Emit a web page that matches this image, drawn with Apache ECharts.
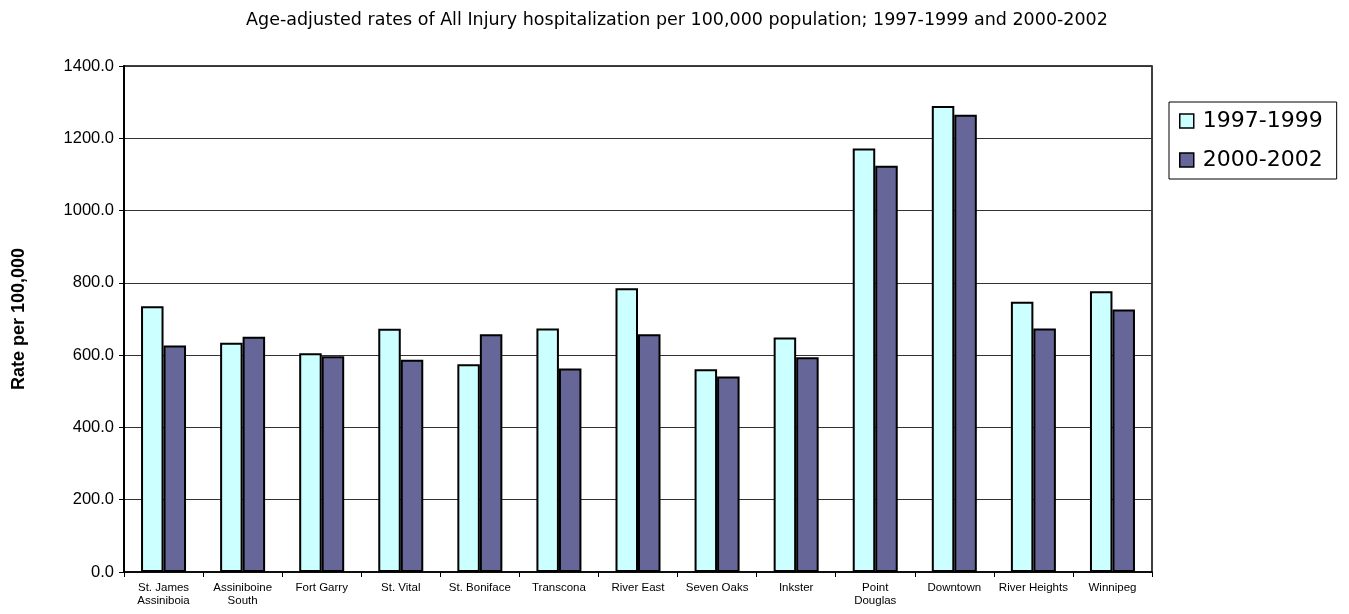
<!DOCTYPE html>
<html>
<head>
<meta charset="utf-8">
<script src="https://cdn.jsdelivr.net/npm/echarts@6/dist/echarts.min.js"></script>
<style>html,body{margin:0;padding:0;background:#fff}#c{width:1349px;height:614px}</style>
</head>
<body>
<div id="c"></div>
<script>
var categories = ["St. James\nAssiniboia","Assiniboine\nSouth","Fort Garry","St. Vital","St. Boniface","Transcona","River East","Seven Oaks","Inkster","Point\nDouglas","Downtown","River Heights","Winnipeg"];
var series1997 = [735, 634, 605, 673, 575, 674, 785, 561, 649, 1172, 1289, 748, 777];
var series2000 = [627, 651, 597, 587, 658, 563, 658, 541, 594, 1124, 1265, 674, 726];
var yTicks = {min: 0, max: 1400, interval: 200};

var chart = echarts.init(document.getElementById('c'));
var font = 'Arial, "Liberation Sans", sans-serif';
chart.setOption({
  animation: false,
  backgroundColor: '#fff',
  title: {
    text: 'Age-adjusted rates of All Injury hospitalization per 100,000 population; 1997-1999 and 2000-2002',
    left: 672, top: 6, textAlign: 'center',
    textStyle: {fontFamily: '"DejaVu Sans", sans-serif', fontSize: 17.5, fontWeight: 'normal', color: '#000'}
  },
  legend: {
    orient: 'vertical',
    left: 1169, top: 102,
    padding: [8, 14, 8, 10],
    itemGap: 17,
    itemWidth: 14, itemHeight: 14,
    icon: 'rect',
    borderColor: '#000', borderWidth: 1,
    textStyle: {fontFamily: '"DejaVu Sans", sans-serif', fontSize: 22, color: '#000', padding: [0,0,0,4]},
    itemStyle: {borderColor: '#000', borderWidth: 1.5},
    data: ['1997-1999', '2000-2002']
  },
  grid: {
    left: 124, right: 197, top: 66, bottom: 42,
    show: true, borderColor: '#000', borderWidth: 1.5, backgroundColor: '#fff'
  },
  xAxis: {
    type: 'category',
    data: categories,
    axisLine: {lineStyle: {color: '#000', width: 1.5}},
    axisTick: {show: true, length: 5, lineStyle: {color: '#000'}},
    axisLabel: {fontFamily: font, fontSize: 11.5, color: '#000', margin: 9, lineHeight: 13, interval: 0}
  },
  yAxis: {
    type: 'value',
    min: yTicks.min, max: yTicks.max, interval: yTicks.interval,
    name: 'Rate per 100,000',
    nameLocation: 'middle',
    nameGap: 96,
    nameTextStyle: {fontFamily: font, fontSize: 18, fontWeight: 'bold', color: '#000'},
    axisLine: {show: true, lineStyle: {color: '#000', width: 2}},
    axisTick: {show: true, length: 5, lineStyle: {color: '#000'}},
    axisLabel: {fontFamily: font, fontSize: 16.5, color: '#000', margin: 10,
      formatter: function (v) { return v.toFixed(1); }},
    splitLine: {show: true, lineStyle: {color: '#333', width: 1}}
  },
  series: [
    {name: '1997-1999', type: 'bar', data: series1997, barWidth: 22.5, barGap: '0%',
     itemStyle: {color: '#CCFFFF', borderColor: '#000', borderWidth: 2}},
    {name: '2000-2002', type: 'bar', data: series2000, barWidth: 22.5,
     itemStyle: {color: '#666699', borderColor: '#000', borderWidth: 2}}
  ]
});
</script>
</body>
</html>
